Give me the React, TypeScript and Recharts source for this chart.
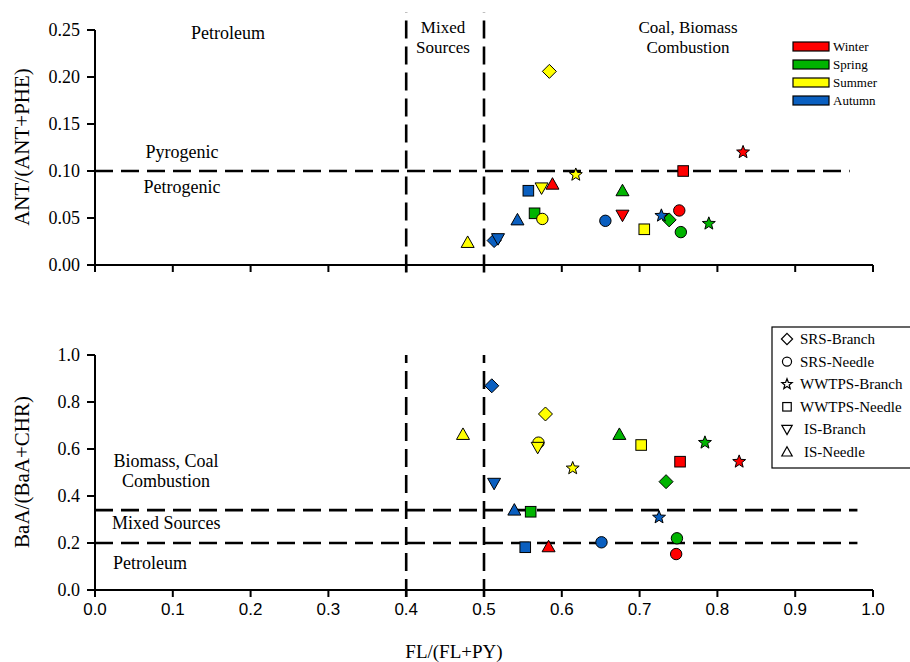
import React from 'react';
import { ScatterChart, Scatter, XAxis, YAxis, ReferenceLine } from 'recharts';

// ---- categories ----
const seasons = ['Winter', 'Spring', 'Summer', 'Autumn'];
const seasonColors = ['#FF0000', '#00B400', '#FFFF00', '#0A5FC0'];
const sampleTypes = ['SRS-Branch', 'SRS-Needle', 'WWTPS-Branch', 'WWTPS-Needle', 'IS-Branch', 'IS-Needle'];
const markerShapes = ['diamond', 'circle', 'star', 'square', 'triangleDown', 'triangleUp'];

// ---- tick labels ----
const flTicks = [0, 0.1, 0.2, 0.3, 0.4, 0.5, 0.6, 0.7, 0.8, 0.9, 1.0];
const antTicks = [0, 0.05, 0.1, 0.15, 0.2, 0.25];
const baaTicks = [0, 0.2, 0.4, 0.6, 0.8, 1.0];

// ---- top panel: FL/(FL+PY) vs ANT/(ANT+PHE), indexed by sample type (null = none) ----
const topFlWinter = [null, 0.751, 0.833, 0.756, 0.678, 0.588];
const topAntWinter = [null, 0.058, 0.120, 0.100, 0.053, 0.086];
const topFlSpring = [0.738, 0.753, 0.789, 0.565, null, 0.678];
const topAntSpring = [0.048, 0.035, 0.044, 0.055, null, 0.079];
const topFlSummer = [0.584, 0.575, 0.618, 0.706, 0.574, 0.479];
const topAntSummer = [0.206, 0.049, 0.096, 0.038, 0.082, 0.024];
const topFlAutumn = [0.513, 0.656, 0.728, 0.557, 0.518, 0.543];
const topAntAutumn = [0.026, 0.047, 0.0525, 0.079, 0.028, 0.048];

// ---- bottom panel: FL/(FL+PY) vs BaA/(BaA+CHR) ----
const botFlWinter = [null, 0.747, 0.828, 0.752, null, 0.583];
const botBaaWinter = [null, 0.153, 0.546, 0.546, null, 0.184];
const botFlSpring = [0.734, 0.748, 0.784, 0.560, null, 0.674];
const botBaaSpring = [0.461, 0.22, 0.627, 0.333, null, 0.662];
const botFlSummer = [0.579, 0.570, 0.614, 0.702, 0.569, 0.473];
const botBaaSummer = [0.749, 0.627, 0.518, 0.617, 0.607, 0.662];
const botFlAutumn = [0.510, 0.651, 0.725, 0.553, 0.513, 0.539];
const botBaaAutumn = [0.869, 0.203, 0.309, 0.182, 0.454, 0.340];

// ---- thresholds ----
const topVerticals = [0.4, 0.5];
const topHorizontal = 0.1;
const botVerticals = [0.4, 0.5];
const botHorizontals = [0.34, 0.2];

const topSeries = [
  [topFlWinter, topAntWinter],
  [topFlSpring, topAntSpring],
  [topFlSummer, topAntSummer],
  [topFlAutumn, topAntAutumn],
];
const botSeries = [
  [botFlWinter, botBaaWinter],
  [botFlSpring, botBaaSpring],
  [botFlSummer, botBaaSummer],
  [botFlAutumn, botBaaAutumn],
];

function build(xs: (number | null)[], ys: (number | null)[]) {
  const out: { x: number; y: number; type: number }[] = [];
  xs.forEach((x, i) => {
    const y = ys[i];
    if (x != null && y != null) out.push({ x, y, type: i });
  });
  return out;
}

const SERIF = '"Liberation Serif", "Times New Roman", serif';
const SANS = '"Liberation Sans", Arial, sans-serif';

function starPath(cx: number, cy: number, ro: number, ri: number) {
  let d = '';
  for (let k = 0; k < 10; k++) {
    const r = k % 2 === 0 ? ro : ri;
    const a = -Math.PI / 2 + (k * Math.PI) / 5;
    d += (k === 0 ? 'M' : 'L') + (cx + r * Math.cos(a)).toFixed(2) + ',' + (cy + r * Math.sin(a)).toFixed(2);
  }
  return d + 'Z';
}

function Glyph({ shape, cx, cy, fill, s = 1, sw = 1 }: any) {
  const common = { fill, stroke: '#000', strokeWidth: sw };
  switch (shape) {
    case 'diamond':
      return <path d={`M${cx},${cy - 7 * s}L${cx + 7 * s},${cy}L${cx},${cy + 7 * s}L${cx - 7 * s},${cy}Z`} {...common} />;
    case 'circle':
      return <circle cx={cx} cy={cy} r={5.7 * s} {...common} />;
    case 'square':
      return <rect x={cx - 5.3 * s} y={cy - 5.3 * s} width={10.6 * s} height={10.6 * s} {...common} />;
    case 'triangleUp':
      return <path d={`M${cx},${cy - 6.5 * s}L${cx + 6.5 * s},${cy + 5 * s}L${cx - 6.5 * s},${cy + 5 * s}Z`} {...common} />;
    case 'triangleDown':
      return <path d={`M${cx},${cy + 6.5 * s}L${cx + 6.5 * s},${cy - 5 * s}L${cx - 6.5 * s},${cy - 5 * s}Z`} {...common} />;
    case 'star':
      return <path d={starPath(cx, cy, 6.8 * s, 2.9 * s)} {...common} />;
    default:
      return null;
  }
}

const dashed = { stroke: '#000', strokeWidth: 2.6, strokeDasharray: '18 8' };
const axisLine = { stroke: '#000', strokeWidth: 2 };
const tickLine = { stroke: '#000', strokeWidth: 2 };

function renderSeries(series: any[], prefix: string) {
  return series.map(([xs, ys], si) => (
    <Scatter
      key={prefix + si}
      name={seasons[si]}
      data={build(xs, ys)}
      isAnimationActive={false}
      shape={(p: any) => (
        <Glyph shape={markerShapes[p.payload.type]} cx={p.cx} cy={p.cy} fill={seasonColors[si]} />
      )}
    />
  ));
}

const EmptyTick = () => <g />;

export default function App() {
  return (
    <div style={{ position: 'absolute', left: 0, top: 0, width: 910, height: 662, background: '#fff' }}>
      <div style={{ position: 'absolute', left: 0, top: 0 }}>
        <ScatterChart width={910} height={300} margin={{ top: 30, right: 37, bottom: 0, left: 0 }}>
          <XAxis
            type="number"
            dataKey="x"
            domain={[0, 1]}
            ticks={flTicks}
            height={35}
            axisLine={axisLine}
            tickLine={tickLine}
            tickSize={7}
            tick={<EmptyTick />}
          />
          <YAxis
            type="number"
            dataKey="y"
            domain={[0, 0.25]}
            ticks={antTicks}
            width={95}
            axisLine={axisLine}
            tickLine={tickLine}
            tickSize={8}
            tickMargin={7}
            tickFormatter={(v: number) => v.toFixed(2)}
            tick={{ fill: '#000', fontSize: 18, fontFamily: SERIF }}
          />
          {renderSeries(topSeries, 't')}
          {topVerticals.map((v) => (
            <ReferenceLine key={'tv' + v} segment={[{ x: v, y: -0.008 }, { x: v, y: 0.269 }]} ifOverflow="visible" {...dashed} />
          ))}
          <ReferenceLine segment={[{ x: 0, y: topHorizontal }, { x: 0.97, y: topHorizontal }]} ifOverflow="visible" {...dashed} />
        </ScatterChart>
      </div>
      <div style={{ position: 'absolute', left: 0, top: 300 }}>
        <ScatterChart width={910} height={362} margin={{ top: 55, right: 37, bottom: 0, left: 0 }}>
          <XAxis
            type="number"
            dataKey="x"
            domain={[0, 1]}
            ticks={flTicks}
            height={72}
            axisLine={axisLine}
            tickLine={tickLine}
            tickSize={7}
            tickMargin={6}
            tickFormatter={(v: number) => v.toFixed(1)}
            tick={{ fill: '#000', fontSize: 17, fontFamily: SANS }}
          />
          <YAxis
            type="number"
            dataKey="y"
            domain={[0, 1]}
            ticks={baaTicks}
            width={95}
            axisLine={axisLine}
            tickLine={tickLine}
            tickSize={8}
            tickMargin={7}
            tickFormatter={(v: number) => v.toFixed(1)}
            tick={{ fill: '#000', fontSize: 18, fontFamily: SERIF }}
          />
          {renderSeries(botSeries, 'b')}
          {botVerticals.map((v) => (
            <ReferenceLine key={'bv' + v} segment={[{ x: v, y: -0.03 }, { x: v, y: 1.0 }]} ifOverflow="visible" {...dashed} />
          ))}
          {botHorizontals.map((h) => (
            <ReferenceLine key={'bh' + h} segment={[{ x: 0, y: h }, { x: 0.98, y: h }]} ifOverflow="visible" {...dashed} />
          ))}
        </ScatterChart>
      </div>
      <svg
        width={910}
        height={662}
        style={{ position: 'absolute', left: 0, top: 0, pointerEvents: 'none' }}
        fontFamily={SERIF}
        fill="#000"
      >
        {/* top panel annotations */}
        <text x={228} y={33} fontSize={18} textAnchor="middle" dominantBaseline="central">Petroleum</text>
        <text x={443} y={27} fontSize={17} textAnchor="middle" dominantBaseline="central">Mixed</text>
        <text x={443} y={47} fontSize={17} textAnchor="middle" dominantBaseline="central">Sources</text>
        <text x={688} y={27} fontSize={17} textAnchor="middle" dominantBaseline="central">Coal, Biomass</text>
        <text x={688} y={47} fontSize={17} textAnchor="middle" dominantBaseline="central">Combustion</text>
        <text x={182} y={152} fontSize={18} textAnchor="middle" dominantBaseline="central">Pyrogenic</text>
        <text x={182} y={187} fontSize={18} textAnchor="middle" dominantBaseline="central">Petrogenic</text>
        {/* bottom panel annotations */}
        <text x={166} y={461} fontSize={18} textAnchor="middle" dominantBaseline="central">Biomass, Coal</text>
        <text x={166} y={481} fontSize={18} textAnchor="middle" dominantBaseline="central">Combustion</text>
        <text x={112} y={523} fontSize={18} dominantBaseline="central">Mixed Sources</text>
        <text x={113} y={563} fontSize={18} dominantBaseline="central">Petroleum</text>
        {/* axis titles */}
        <text x={0} y={0} fontSize={21} textAnchor="middle" dominantBaseline="central" transform="translate(22,147) rotate(-90)">ANT/(ANT+PHE)</text>
        <text x={0} y={0} fontSize={21} textAnchor="middle" dominantBaseline="central" transform="translate(22,472) rotate(-90)">BaA/(BaA+CHR)</text>
        <text x={454} y={651} fontSize={19} textAnchor="middle" dominantBaseline="central">FL/(FL+PY)</text>
        {/* season legend */}
        {seasons.map((s, i) => (
          <g key={s}>
            <rect x={793} y={42 + i * 18} width={36} height={9} fill={seasonColors[i]} stroke="#000" strokeWidth={1.2} />
            <text x={833} y={46.5 + i * 18} fontSize={13} dominantBaseline="central">{s}</text>
          </g>
        ))}
        {/* sample type legend */}
        <rect x={772} y={327} width={145} height={141} fill="#fff" stroke="#000" strokeWidth={1.2} />
        {sampleTypes.map((t, i) => (
          <g key={t}>
            <Glyph shape={markerShapes[i]} cx={787} cy={339 + i * 22.6} fill="none" s={0.8} sw={1.2} />
            <text x={t.startsWith('IS') ? 804 : 800} y={339 + i * 22.6} fontSize={15} dominantBaseline="central">{t}</text>
          </g>
        ))}
      </svg>
    </div>
  );
}
